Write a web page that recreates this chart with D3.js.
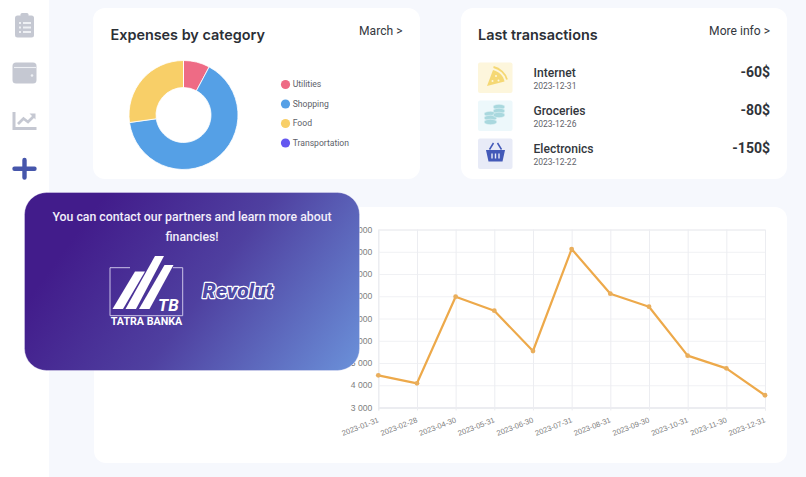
<!DOCTYPE html>
<html>
<head>
<meta charset="utf-8">
<script src="https://cdn.jsdelivr.net/npm/d3@7"></script>
<style>
  html, body { margin: 0; padding: 0; background: #f6f8fd; overflow: hidden; }
  svg { display: block; }
  text { font-family: Roboto, sans-serif; }
  .title { font-family: Inter, sans-serif; font-weight: 600; font-size: 14.4px; fill: #2b2f36; }
  .link { font-family: Roboto, sans-serif; font-size: 12.1px; fill: #33373d; }
  .axis text { font-family: "Liberation Sans", Arial, sans-serif; font-size: 8.6px; fill: #808080; }
  .axis.xaxis text { font-size: 7.6px; }
</style>
</head>
<body>
<div id="app"></div>
<script>
// Expenses donut
const categories = ["Utilities", "Shopping", "Food", "Transportation"];
const expenses = [7.8, 65, 27.2, 0];
const categoryColors = ["#ee6b85", "#55a0e6", "#f8cf68", "#6457f0"];

// Last transactions
const txNames = ["Internet", "Groceries", "Electronics"];
const txDates = ["2023-12-31", "2023-12-26", "2023-12-22"];
const txAmounts = ["-60$", "-80$", "-150$"];
const txTints = ["#fdf6dc", "#edf8fb", "#e8ebf7"];

// Line chart
const months = ["2023-01-31", "2023-02-28", "2023-04-30", "2023-05-31", "2023-06-30", "2023-07-31",
  "2023-08-31", "2023-09-30", "2023-10-31", "2023-11-30", "2023-12-31"];
const balance = [4447, 4087, 7980, 7350, 5540, 10120, 8115, 7530, 5330, 4760, 3550];
const yTicks = [3000, 4000, 5000, 6000, 7000, 8000, 9000, 10000, 11000];

const promoLines = ["You can contact our partners and learn more about", "financies!"];

const svg = d3.select("#app").append("svg")
  .attr("width", 806)
  .attr("height", 477)
  .attr("viewBox", "0 0 806 477");

const defs = svg.append("defs");
const grad = defs.append("linearGradient")
  .attr("id", "promo")
  .attr("gradientUnits", "userSpaceOnUse")
  .attr("x1", 90).attr("y1", 215).attr("x2", 335).attr("y2", 395);
grad.append("stop").attr("offset", "0%").attr("stop-color", "#421c8b");
grad.append("stop").attr("offset", "45%").attr("stop-color", "#4f40a0");
grad.append("stop").attr("offset", "100%").attr("stop-color", "#6a8fd8");

// Page background pieces
svg.append("rect").attr("width", 806).attr("height", 477).attr("fill", "#f6f8fd");
svg.append("rect").attr("width", 49).attr("height", 477).attr("fill", "#ffffff");

const card = (x, y, w, h) => svg.append("rect")
  .attr("x", x).attr("y", y).attr("width", w).attr("height", h)
  .attr("rx", 12).attr("fill", "#ffffff");
card(93, 8, 327, 171);
card(461, 8, 326, 171);
card(94, 207, 693, 256);

// Sidebar icons
const side = svg.append("g");
// clipboard
side.append("rect").attr("x", 15).attr("y", 15.5).attr("width", 19).attr("height", 22).attr("rx", 2.5).attr("fill", "#c5c8d2");
side.append("rect").attr("x", 20.5).attr("y", 13).attr("width", 8).attr("height", 5).attr("rx", 1.5).attr("fill", "#c5c8d2");
side.selectAll("rect.dot").data([22, 26.5, 31]).join("rect")
  .attr("class", "dot").attr("x", 19).attr("y", d => d).attr("width", 2).attr("height", 2).attr("fill", "#eef0f4");
side.selectAll("rect.dash").data([22, 26.5, 31]).join("rect")
  .attr("class", "dash").attr("x", 23).attr("y", d => d).attr("width", 8).attr("height", 2).attr("fill", "#eef0f4");
// wallet
side.append("rect").attr("x", 12.5).attr("y", 62.5).attr("width", 24).attr("height", 21).attr("rx", 3.5).attr("fill", "#c5c8d2");
side.append("path").attr("d", "M14 67.5H36").attr("stroke", "#eef0f4").attr("stroke-width", 1.1);
side.append("circle").attr("cx", 32).attr("cy", 75.5).attr("r", 1.3).attr("fill", "#eef0f4");
// trend chart
side.append("path").attr("d", "M14 112V128.5H36.5").attr("fill", "none").attr("stroke", "#c5c8d2").attr("stroke-width", 3);
side.append("path").attr("d", "M18 124L23.5 118.5L28 122L34 116").attr("fill", "none").attr("stroke", "#c5c8d2").attr("stroke-width", 2.8);
side.append("path").attr("d", "M29.5 113.5H35.5V119.5Z").attr("fill", "#c5c8d2");
// plus
side.append("path").attr("d", "M24.5 160V177.5M14.5 168.7H34.5").attr("stroke", "#4656ab").attr("stroke-width", 4.4).attr("stroke-linecap", "round");

// Donut
svg.append("text").attr("class", "title").attr("x", 110.5).attr("y", 40).text("Expenses by category");
svg.append("text").attr("class", "link").attr("x", 402.5).attr("y", 35).attr("text-anchor", "end").text("March >");

const pie = d3.pie().sort(null)(expenses);
const arc = d3.arc().innerRadius(27.5).outerRadius(54.5);
svg.append("g")
  .attr("transform", "translate(183.5,115)")
  .selectAll("path")
  .data(pie)
  .join("path")
    .attr("d", arc)
    .attr("fill", (d, i) => categoryColors[i])
    .attr("stroke", "#ffffff")
    .attr("stroke-width", 0.8);

const legendY = d3.scalePoint().domain(categories).range([84.5, 143]);
const legend = svg.append("g").selectAll("g")
  .data(categories)
  .join("g")
    .attr("transform", d => `translate(285.5,${legendY(d)})`);
legend.append("circle").attr("r", 4.6).attr("fill", (d, i) => categoryColors[i]);
legend.append("text")
  .attr("x", 7.2).attr("y", 2.8)
  .attr("font-size", 8.6)
  .attr("fill", "#5d6169")
  .text(d => d);

// Transactions
svg.append("text").attr("class", "title").attr("x", 478).attr("y", 40).text("Last transactions");
svg.append("text").attr("class", "link").attr("x", 770).attr("y", 35).attr("text-anchor", "end").text("More info >");

const rowY = d3.scalePoint().domain(txNames).range([62.5, 138.5]);
const rows = svg.append("g").selectAll("g")
  .data(txNames)
  .join("g")
    .attr("transform", d => `translate(478,${rowY(d)})`);
rows.append("rect")
  .attr("width", 34.5).attr("height", 30.5).attr("rx", 2)
  .attr("fill", (d, i) => txTints[i]);
rows.append("text")
  .attr("x", 55.5).attr("y", 14)
  .attr("font-family", "Roboto, sans-serif")
  .attr("font-weight", 500)
  .attr("font-size", 12.1)
  .attr("fill", "#33373d")
  .text(d => d);
rows.append("text")
  .attr("x", 55.5).attr("y", 26)
  .attr("font-size", 8.5)
  .attr("fill", "#5f636a")
  .text((d, i) => txDates[i]);
rows.append("text")
  .attr("x", 292).attr("y", 14.6)
  .attr("text-anchor", "end")
  .attr("font-family", "Roboto, sans-serif")
  .attr("font-weight", 700)
  .attr("font-size", 14)
  .attr("fill", "#2f3339")
  .text((d, i) => txAmounts[i]);

// Transaction icons, drawn in row coordinates
const pizza = rows.filter((d, i) => i === 0);
pizza.append("path").attr("d", "M9 23.5L15 7.5C21 9 25.5 13.5 26.5 19Z").attr("fill", "#f5d874");
pizza.append("path").attr("d", "M15.5 4.5C22 6 27.5 11 29 17").attr("fill", "none").attr("stroke", "#f5d874").attr("stroke-width", 1.8);
pizza.selectAll("circle").data([[14.5, 18.5], [18, 13.5], [20.5, 18]]).join("circle")
  .attr("cx", d => d[0]).attr("cy", d => d[1]).attr("r", 1).attr("fill", "#fdf6dc");

const coins = rows.filter((d, i) => i === 1);
coins.selectAll("ellipse").data([[12.5, 13.5], [12.5, 17.5], [12.5, 21.5], [21, 6.5], [21, 10.5], [21, 14.5]]).join("ellipse")
  .attr("cx", d => d[0]).attr("cy", d => d[1])
  .attr("rx", d => d[0] < 15 ? 6.5 : 6).attr("ry", 2.7)
  .attr("fill", "#a9d8de").attr("stroke", "#edf8fb").attr("stroke-width", 0.5);

const basket = rows.filter((d, i) => i === 2);
basket.append("path").attr("d", "M8 11.5H27L24.5 23H10.5Z").attr("fill", "#4359b8");
basket.append("path").attr("d", "M11.5 11L15.5 4.5M23.5 11L19.5 4.5").attr("stroke", "#4359b8").attr("stroke-width", 1.5);
basket.append("path").attr("d", "M14 15V20M17.5 15V20M21 15V20").attr("stroke", "#e8ebf7").attr("stroke-width", 1.4);

// Line chart
const x = d3.scalePoint().domain(months).range([378.3, 765]);
const y = d3.scaleLinear().domain([3000, 11000]).range([407.5, 229.5]);
const spaced = d3.formatLocale({ thousands: " ", grouping: [3], decimal: ".", currency: ["", ""] }).format(",d");

const yAxis = svg.append("g")
  .attr("class", "axis")
  .attr("transform", "translate(378.3,0)")
  .call(d3.axisLeft(y).tickValues(yTicks).tickFormat(spaced).tickSize(-386.7).tickPadding(6));
yAxis.select(".domain").attr("stroke", "#e6e7ec");
yAxis.selectAll(".tick line").attr("stroke", "#f0f1f4");
yAxis.selectAll(".tick text").attr("dy", "0.3em");

const xAxis = svg.append("g")
  .attr("class", "axis xaxis")
  .attr("transform", "translate(0,407.5)")
  .call(d3.axisBottom(x).tickSize(3));
xAxis.select(".domain").attr("stroke", "#e6e7ec");
xAxis.selectAll(".tick line").clone()
  .attr("y1", 0).attr("y2", -178);
xAxis.selectAll(".tick line").attr("stroke", "#ecedf1");
xAxis.selectAll(".tick text")
  .attr("text-anchor", "end")
  .attr("x", 0).attr("y", 0).attr("dy", 0)
  .attr("transform", "translate(0.5,14.5) rotate(-21)");

const line = d3.line().x((d, i) => x(months[i])).y(d => y(d));
svg.append("path")
  .datum(balance)
  .attr("d", line)
  .attr("fill", "none")
  .attr("stroke", "#eda94a")
  .attr("stroke-width", 2.2)
  .attr("stroke-linejoin", "round");
svg.append("g").selectAll("circle")
  .data(balance)
  .join("circle")
    .attr("cx", (d, i) => x(months[i]))
    .attr("cy", d => y(d))
    .attr("r", 2.4)
    .attr("fill", "#e9ae5c");

// Promo card over the chart
svg.append("rect")
  .attr("x", 24.5).attr("y", 192.5).attr("width", 335).attr("height", 178)
  .attr("rx", 22)
  .attr("fill", "url(#promo)")
  .attr("stroke", "#ece8f8").attr("stroke-width", 0.4);

svg.append("g").selectAll("text")
  .data(promoLines)
  .join("text")
    .attr("x", 192)
    .attr("y", (d, i) => 221 + i * 20)
    .attr("text-anchor", "middle")
    .attr("font-size", 12.3)
    .attr("font-weight", 500)
    .attr("fill", "#f2eefb")
    .text(d => d);

// Tatra banka logo
const tb = svg.append("g");
tb.append("path")
  .attr("d", "M130 267.7H110V315.7H182.7V267.7H173")
  .attr("fill", "none")
  .attr("stroke", "#d9d2f0")
  .attr("stroke-width", 0.9);
tb.selectAll("path.stripe")
  .data([
    "M112.5 309L135 271.5H145L123 309Z",
    "M125.5 309L155 256H164L136 309Z",
    "M139 309L164.5 265H173.5L149.5 309Z"
  ])
  .join("path")
    .attr("class", "stripe")
    .attr("d", d => d)
    .attr("fill", "#ffffff");
tb.append("text")
  .attr("x", 158).attr("y", 311)
  .attr("font-family", "'Liberation Sans', sans-serif")
  .attr("font-style", "italic")
  .attr("font-weight", 700)
  .attr("font-size", 17)
  .attr("fill", "#ffffff")
  .text("TB");
tb.append("text")
  .attr("x", 146.5).attr("y", 325.3)
  .attr("text-anchor", "middle")
  .attr("font-family", "'Liberation Sans', sans-serif")
  .attr("font-weight", 700)
  .attr("font-size", 10.7)
  .attr("fill", "#ffffff")
  .text("TATRA BANKA");

// Revolut logo
svg.append("text")
  .attr("x", 202.5).attr("y", 297.5)
  .attr("font-family", "Lato, sans-serif")
  .attr("font-style", "italic")
  .attr("font-weight", 900)
  .attr("font-size", 21)
  .attr("fill", "#4f4aa6")
  .attr("stroke", "#ffffff")
  .attr("stroke-width", 2.4)
  .attr("paint-order", "stroke")
  .attr("stroke-linejoin", "round")
  .text("Revolut");
</script>
</body>
</html>
